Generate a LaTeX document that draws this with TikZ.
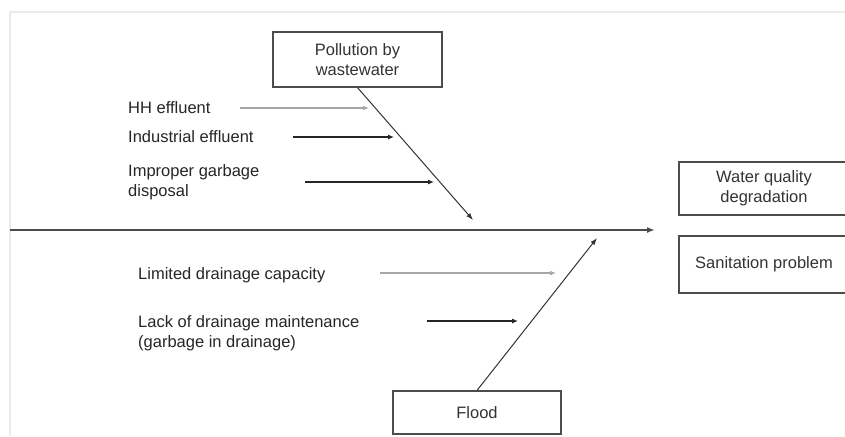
\documentclass[tikz,border=0pt]{standalone}
\usepackage{fontspec}
\setmainfont{Liberation Sans}
\usetikzlibrary{arrows.meta}

\begin{document}
\begin{tikzpicture}[x=1pt,y=-1pt,
      font=\fontsize{16.5}{19.8}\selectfont,
      box/.style={draw=black!70,line width=1.2pt,align=center,inner sep=0pt,text=black!80},
      cause/.style={anchor=west,align=left,inner sep=0pt,text=black!85},
      bone/.style={black!80,line width=1pt,-{Latex[length=7pt,width=5pt]}},
      twig/.style={black!85,line width=1.1pt,-{Latex[length=6pt,width=5pt]}},
      lighttwig/.style={black!35,line width=1.3pt,-{Latex[length=6pt,width=5pt]}}]
            \useasboundingbox (0,0) rectangle (845,436);
            \draw [black!8,line width=1.5pt] (845,12) -- (10,12) -- (10,436);

            % spine
            \coordinate (spineL) at (10,230);
            \coordinate (spineR) at (655,230);
            \draw [black!70,line width=2pt,-{Latex[length=8pt,width=6pt]}] 
               (spineL) -- (spineR);

            % effects
            \node [box,minimum width=170pt,minimum height=53pt] (wqbox) 
               at (764,188.5) {Water quality\\degradation};
            \node [box,minimum width=170pt,minimum height=57pt] (sanbox) 
               at (764,264.5) {Sanitation problem};

            % pollution branch
            \node [box,minimum width=169pt,minimum height=55pt] (polbox) 
               at (357.5,59.5) {Pollution by\\wastewater};
            \coordinate (poltip) at (473,220);
            \draw [bone] (polbox.south) -- (poltip);

            \node [cause] (hh) at (128,108) {HH effluent};
            \coordinate (hhA) at (240,108);
            \coordinate (hhB) at (369,108);
            \draw [lighttwig] (hhA) -- (hhB);

            \node [cause] (ind) at (128,137) {Industrial effluent};
            \coordinate (indA) at (293,137);
            \coordinate (indB) at (394,137);
            \draw [twig] (indA) -- (indB);

            \node [cause] (garb) at (128,182) {Improper garbage\\disposal};
            \coordinate (garbA) at (305,182);
            \coordinate (garbB) at (434,182);
            \draw [twig] (garbA) -- (garbB);

            % flood branch
            \node [box,minimum width=168pt,minimum height=43pt] (floodbox) 
               at (477,412.5) {Flood};
            \coordinate (floodtip) at (597,238);
            \draw [bone] (floodbox.north) -- (floodtip);

            \node [cause] (cap) at (138,275) {Limited drainage capacity};
            \coordinate (capA) at (380,273);
            \coordinate (capB) at (556,273);
            \draw [lighttwig] (capA) -- (capB);

            \node [cause] (maint) at (138,333) {Lack of drainage maintenance\\(garbage in drainage)};
            \coordinate (maintA) at (427,321);
            \coordinate (maintB) at (518,321);
            \draw [twig] (maintA) -- (maintB);
         \end{tikzpicture}
\end{document}
